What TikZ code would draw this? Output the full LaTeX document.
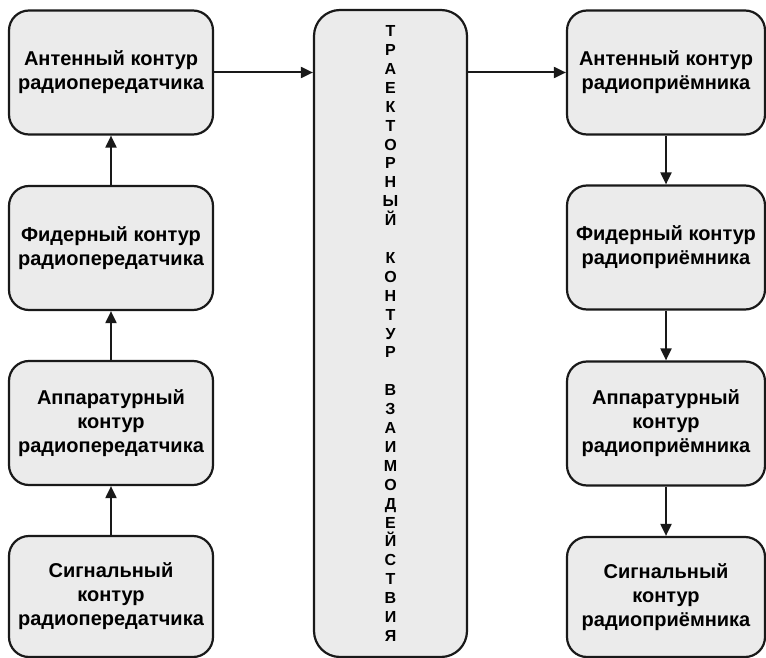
\documentclass[tikz,border=0pt]{standalone}
\usepackage{fontspec}
\setmainfont{Liberation Sans}
\usetikzlibrary{arrows.meta}
\begin{document}
\begin{tikzpicture}[x=1pt,y=-1pt,
  blk/.style={draw=black!90, line width=2.2pt, fill=black!8, rounded corners=20pt,
    align=center, inner sep=0pt, font=\fontsize{20}{24}\selectfont\bfseries},
  lblk/.style={blk, minimum width=204pt, minimum height=124pt},
  rblk/.style={blk, minimum width=198pt, minimum height=124pt},
  conn/.style={line width=2pt, draw=black!90, -{Triangle[length=12pt,width=11pt]}}]
\useasboundingbox (0,0) rectangle (766,658);
% left column
\node[lblk] (L1) at (111,72.5) {Антенный контур\\радиопередатчика};
\node[lblk] (L2) at (111,248) {Фидерный контур\\радиопередатчика};
\node[lblk] (L3) at (111,423) {Аппаратурный\\контур\\радиопередатчика};
\node[lblk, minimum height=121pt] (L4) at (111,596.5) {Сигнальный\\контур\\радиопередатчика};
% middle
\node[blk, rounded corners=26pt, minimum width=153pt, minimum height=647pt,
  font=\fontsize{16}{18.9}\selectfont\bfseries] (M) at (390.5,333.5)
  {Т\\Р\\А\\Е\\К\\Т\\О\\Р\\Н\\Ы\\Й\\\mbox{}\\К\\О\\Н\\Т\\У\\Р\\\mbox{}\\В\\З\\А\\И\\М\\О\\Д\\Е\\Й\\С\\Т\\В\\И\\Я};
% right column
\node[rblk] (R1) at (666,72.5) {Антенный контур\\радиоприёмника};
\node[rblk] (R2) at (666,247.5) {Фидерный контур\\радиоприёмника};
\node[rblk] (R3) at (666,423.5) {Аппаратурный\\контур\\радиоприёмника};
\node[rblk, minimum height=120pt] (R4) at (666,597) {Сигнальный\\контур\\радиоприёмника};
% connectors
\draw[conn] (L4.north) -- (L3.south);
\draw[conn] (L3.north) -- (L2.south);
\draw[conn] (L2.north) -- (L1.south);
\draw[conn] (L1.east) -- (L1.east -| M.west);
\draw[conn] (R1.west -| M.east) -- (R1.west);
\draw[conn] (R1.south) -- (R2.north);
\draw[conn] (R2.south) -- (R3.north);
\draw[conn] (R3.south) -- (R4.north);
\end{tikzpicture}
\end{document}
